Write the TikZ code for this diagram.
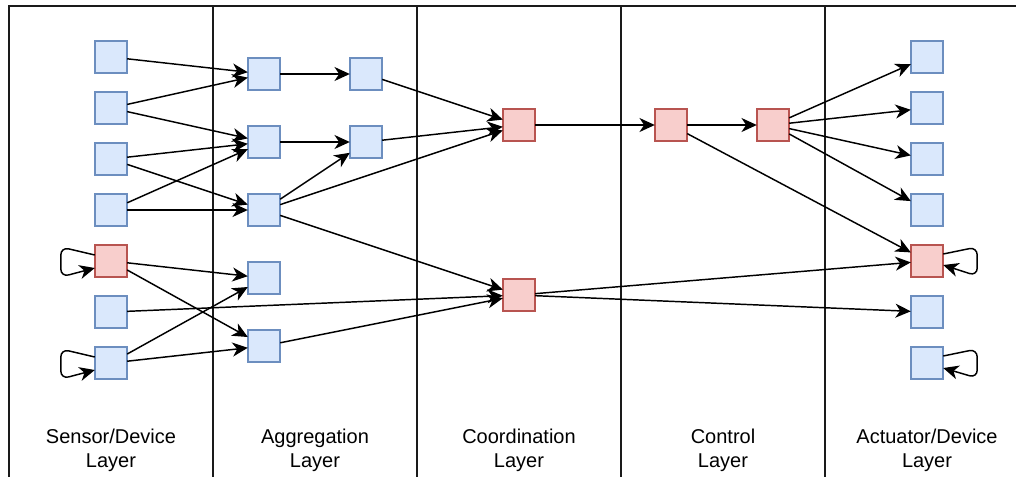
\documentclass[tikz,border=0pt]{standalone}
\usepackage{fontspec}
\setmainfont{Liberation Sans}
\usetikzlibrary{arrows.meta,calc}
\definecolor{bluefill}{HTML}{DAE8FC}
\definecolor{blueline}{HTML}{6C8EBF}
\definecolor{redfill}{HTML}{F8CECC}
\definecolor{redline}{HTML}{B85450}
\definecolor{frameline}{HTML}{1A1A1A}
\begin{document}
\begin{tikzpicture}[x=0.75pt,y=-0.75pt,
  blk/.style={draw=blueline, fill=bluefill, line width=1.2pt,
    minimum size=24.3pt, inner sep=0pt, outer sep=0pt},
  hot/.style={blk, draw=redline, fill=redfill},
  arr/.style={draw=black, line width=1.1pt,
    -{Stealth[length=11.5pt,width=10.5pt,inset=3.5pt]}},
  frame/.style={draw=frameline, line width=1.6pt},
  lbl/.style={font=\fontsize{15}{18}\selectfont, align=center, anchor=base, inner sep=0pt}
]
\useasboundingbox (0,0) rectangle (1016,476);
\clip (0,0) rectangle (1016,476);

% layer frame and dividers
\draw[frame] (9,490) -- (9,6) -- (1030,6);
\foreach \xx in {213,417,621,825}
  \draw[frame] (\xx,6) -- (\xx,490);

% layer titles (anchored on the baseline of the second line)
\node[lbl] (lsens) at (111,467) {Sensor/Device\\Layer};
\node[lbl] (lagg)  at (315,467) {Aggregation\\Layer};
\node[lbl] (lcoor) at (519,467) {Coordination\\Layer};
\node[lbl] (lctrl) at (723,467) {Control\\Layer};
\node[lbl] (lact)  at (927,467) {Actuator/Device\\Layer};

% sensor / device layer
\node[blk] (s1) at (111,57) {};
\node[blk] (s2) at (111,108) {};
\node[blk] (s3) at (111,159) {};
\node[blk] (s4) at (111,210) {};
\node[hot] (s5) at (111,261) {};
\node[blk] (s6) at (111,312) {};
\node[blk] (s7) at (111,363) {};

% aggregation layer
\node[blk] (a1) at (264,74) {};
\node[blk] (a2) at (264,142) {};
\node[blk] (a3) at (264,210) {};
\node[blk] (a4) at (264,278) {};
\node[blk] (a5) at (264,346) {};
\node[blk] (b1) at (366,74) {};
\node[blk] (b2) at (366,142) {};

% coordination layer
\node[hot] (c1) at (519,125) {};
\node[hot] (c2) at (519,295) {};

% control layer
\node[hot] (k1) at (671,125) {};
\node[hot] (k2) at (773,125) {};

% actuator / device layer
\node[blk] (t1) at (927,57) {};
\node[blk] (t2) at (927,108) {};
\node[blk] (t3) at (927,159) {};
\node[blk] (t4) at (927,210) {};
\node[hot] (t5) at (927,261) {};
\node[blk] (t6) at (927,312) {};
\node[blk] (t7) at (927,363) {};

% sensors to aggregation
\draw[arr] (s1) -- (a1);
\draw[arr] (s2) -- (a1);
\draw[arr] (s2) -- (a2);
\draw[arr] (s3) -- (a2);
\draw[arr] (s3) -- (a3);
\draw[arr] (s4) -- (a2);
\draw[arr] (s4) -- (a3);
\draw[arr] (s5) -- (a4);
\draw[arr] (s5) -- (a5);
\draw[arr] (s7) -- (a4);
\draw[arr] (s7) -- (a5);
\draw[arr] (s6) -- (c2);

% aggregation internals and upward
\draw[arr] (a1) -- (b1);
\draw[arr] (a2) -- (b2);
\draw[arr] (a3) -- (b2);
\draw[arr] (b1) -- (c1);
\draw[arr] (b2) -- (c1);
\draw[arr] (a3) -- (c1);
\draw[arr] (a3) -- (c2);
\draw[arr] (a5) -- (c2);

% coordination to control
\draw[arr] (c1) -- (k1);
\draw[arr] (k1) -- (k2);

% to actuators
\draw[arr] (k2) -- (t1);
\draw[arr] (k2) -- (t2);
\draw[arr] (k2) -- (t3);
\draw[arr] (k2) -- (t4);
\draw[arr] (k1) -- (t5);
\draw[arr] (c2) -- (t5);
\draw[arr] (c2) -- (t6);

% self loops
\draw[arr, rounded corners=6pt] ($(s5.west)+(0,-6)$) -- ++(-34,-8) -- ++(0,30) -- ($(s5.west)+(0,7)$);
\draw[arr, rounded corners=6pt] ($(s7.west)+(0,-6)$) -- ++(-34,-8) -- ++(0,30) -- ($(s7.west)+(0,7)$);
\draw[arr, rounded corners=6pt] ($(t5.east)+(0,-7)$) -- ++(34,-7) -- ++(0,29) -- ($(t5.east)+(0,4)$);
\draw[arr, rounded corners=6pt] ($(t7.east)+(0,-7)$) -- ++(34,-7) -- ++(0,29) -- ($(t7.east)+(0,5)$);
\end{tikzpicture}
\end{document}
